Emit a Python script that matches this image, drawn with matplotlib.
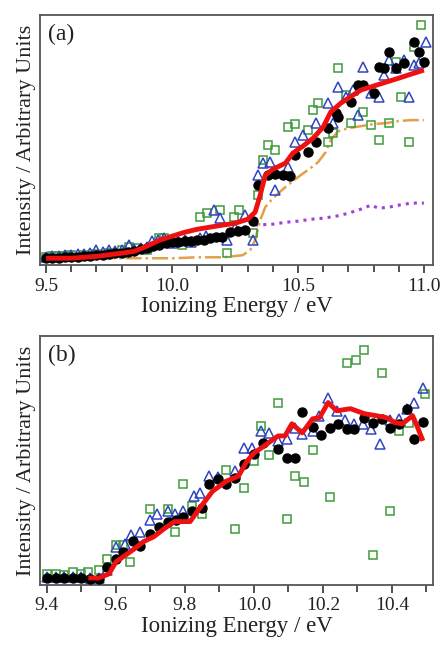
import numpy as np
import matplotlib
matplotlib.use('Agg')
import matplotlib.pyplot as plt
from matplotlib.ticker import MultipleLocator

plt.rcParams['font.family'] = ['Liberation Serif', 'DejaVu Serif']

# ---------------- panel (a) data ----------------
a_fit_x = [9.50, 9.60, 9.70, 9.80, 9.85, 9.90, 9.95, 10.00, 10.05, 10.10, 10.15, 10.20, 10.25, 10.30,
           10.33, 10.35, 10.37, 10.40, 10.45, 10.48, 10.52, 10.56, 10.60, 10.63, 10.67, 10.70, 10.75,
           10.80, 10.85, 10.90, 10.95, 11.00]
a_fit_y = [0.0, 0.0, 0.01, 0.027, 0.037, 0.064, 0.096, 0.117, 0.138, 0.154, 0.165, 0.176, 0.186, 0.207,
           0.245, 0.335, 0.441, 0.473, 0.505, 0.559, 0.596, 0.638, 0.697, 0.777, 0.824, 0.851, 0.894,
           0.915, 0.936, 0.957, 0.979, 1.0]

a_orange_x = [9.50, 9.60, 9.70, 9.80, 9.90, 10.00, 10.10, 10.20, 10.28, 10.31, 10.33, 10.35, 10.37, 10.40,
              10.45, 10.50, 10.55, 10.58, 10.61, 10.63, 10.66, 10.70, 10.75, 10.80, 10.85, 10.90, 10.95, 11.00]
a_orange_y = [0.0, 0.0, 0.0, 0.0, 0.0, 0.0, 0.005, 0.005, 0.016, 0.043, 0.096, 0.202, 0.271, 0.319,
              0.378, 0.431, 0.479, 0.511, 0.564, 0.628, 0.676, 0.691, 0.702, 0.713, 0.718, 0.729, 0.734, 0.734]

a_purple_x = [10.33, 10.40, 10.45, 10.50, 10.55, 10.60, 10.65, 10.70, 10.75, 10.79, 10.82, 10.86, 10.90, 10.95, 11.00]
a_purple_y = [0.176, 0.181, 0.191, 0.197, 0.207, 0.213, 0.223, 0.239, 0.261, 0.282, 0.266, 0.271, 0.282, 0.293, 0.293]

a_black_x = [9.50, 9.525, 9.55, 9.575, 9.60, 9.625, 9.65, 9.675, 9.70, 9.725, 9.75, 9.775, 9.80, 9.825, 9.85,
             9.875, 9.90, 9.925, 9.95, 9.975, 10.00, 10.025, 10.05, 10.075, 10.10, 10.125, 10.15, 10.175,
             10.20, 10.23, 10.26, 10.29, 10.32, 10.34, 10.38, 10.41, 10.44, 10.47, 10.49, 10.54, 10.57,
             10.62, 10.65, 10.66, 10.71, 10.74, 10.76, 10.80, 10.82, 10.84, 10.86, 10.89, 10.92, 10.96,
             10.98, 11.00]
a_black_y = [0.0, 0.0, 0.0, 0.005, 0.005, 0.005, 0.011, 0.011, 0.016, 0.016, 0.021, 0.027, 0.027, 0.032, 0.037,
             0.048, 0.053, 0.064, 0.069, 0.080, 0.085, 0.085, 0.090, 0.090, 0.096, 0.096, 0.106, 0.112,
             0.112, 0.138, 0.144, 0.149, 0.197, 0.388, 0.441, 0.447, 0.441, 0.436, 0.548, 0.564, 0.617,
             0.691, 0.771, 0.750, 0.830, 0.920, 0.920, 0.878, 1.016, 1.011, 1.096, 1.011, 1.037, 1.149,
             1.096, 1.043]

a_blue_x = [9.50, 9.525, 9.55, 9.575, 9.60, 9.625, 9.65, 9.675, 9.70, 9.725, 9.75, 9.775, 9.80, 9.83, 9.85,
            9.875, 9.90, 9.92, 9.945, 9.97, 10.00, 10.025, 10.05, 10.075, 10.11, 10.135, 10.165, 10.19,
            10.22, 10.25, 10.29, 10.32, 10.34, 10.36, 10.39, 10.41, 10.46, 10.49, 10.52, 10.57, 10.62,
            10.64, 10.66, 10.69, 10.72, 10.74, 10.76, 10.79, 10.82, 10.84, 10.86, 10.89, 10.92, 10.94,
            10.96, 10.98, 11.01]
a_blue_y = [0.005, 0.011, 0.011, 0.016, 0.016, 0.021, 0.021, 0.027, 0.043, 0.032, 0.043, 0.037, 0.043, 0.069, 0.048,
            0.053, 0.059, 0.090, 0.096, 0.106, 0.080, 0.090, 0.096, 0.085, 0.106, 0.117, 0.255, 0.213,
            0.096, 0.160, 0.229, 0.096, 0.441, 0.505, 0.511, 0.362, 0.484, 0.617, 0.654, 0.718, 0.824,
            0.718, 0.910, 0.856, 0.894, 0.761, 1.016, 0.878, 0.856, 0.973, 1.053, 1.011, 1.053, 0.856,
            1.027, 1.037, 1.149]

a_green_x = [9.50, 9.525, 9.55, 9.575, 9.60, 9.65, 9.70, 9.75, 9.80, 9.83, 9.86, 9.90, 9.95, 9.97, 10.04,
             10.11, 10.14, 10.19, 10.22, 10.245, 10.265, 10.32, 10.34, 10.36, 10.38, 10.41, 10.46, 10.49,
             10.54, 10.56, 10.58, 10.62, 10.64, 10.66, 10.69, 10.71, 10.76, 10.79, 10.82, 10.86, 10.89,
             10.91, 10.94, 10.96, 10.99]
a_green_y = [0.005, 0.011, 0.011, 0.011, 0.016, 0.016, 0.021, 0.027, 0.043, 0.059, 0.053, 0.043, 0.106, 0.106, 0.069,
             0.218, 0.239, 0.255, 0.027, 0.218, 0.255, 0.133, 0.335, 0.521, 0.601, 0.574, 0.697, 0.713,
             0.681, 0.787, 0.824, 0.617, 0.665, 1.011, 0.867, 0.718, 0.777, 0.707, 0.628, 0.718, 1.043,
             0.856, 0.617, 1.122, 1.239]

# ---------------- panel (b) data ----------------
b_fit_x = [9.52, 9.55, 9.58, 9.60, 9.65, 9.68, 9.71, 9.74, 9.77, 9.815, 9.84, 9.88, 9.92, 9.955, 9.98, 10.00,
           10.03, 10.07, 10.09, 10.11, 10.14, 10.17, 10.19, 10.215, 10.24, 10.28, 10.32, 10.355, 10.385,
           10.41, 10.43, 10.46, 10.475, 10.49]
b_fit_y = [0.0, 0.0, 0.024, 0.094, 0.165, 0.212, 0.241, 0.288, 0.329, 0.329, 0.40, 0.506, 0.565, 0.594, 0.682, 0.729,
           0.771, 0.829, 0.829, 0.90, 0.847, 0.929, 0.935, 1.024, 0.976, 0.988, 0.959, 0.947, 0.935,
           0.906, 0.90, 0.947, 0.876, 0.80]

b_black_x = [9.40, 9.425, 9.45, 9.475, 9.50, 9.525, 9.55, 9.575, 9.60, 9.62, 9.65, 9.67, 9.70, 9.725, 9.75,
             9.775, 9.795, 9.82, 9.85, 9.87, 9.895, 9.92, 9.945, 9.97, 10.00, 10.025, 10.07, 10.095, 10.12,
             10.14, 10.17, 10.195, 10.22, 10.245, 10.27, 10.29, 10.32, 10.345, 10.37, 10.395, 10.42,
             10.445, 10.465, 10.49]
b_black_y = [0.0, 0.0, 0.0, 0.0, 0.0, -0.006, -0.006, 0.065, 0.112, 0.153, 0.218, 0.188, 0.259, 0.30, 0.329,
             0.341, 0.353, 0.388, 0.406, 0.547, 0.576, 0.547, 0.582, 0.665, 0.724, 0.788, 0.753, 0.70, 0.70,
             0.971, 0.882, 0.835, 0.876, 0.90, 0.871, 0.871, 0.935, 0.906, 0.929, 0.876, 0.90,
             0.988, 0.812, 0.912]

b_blue_x = [9.40, 9.425, 9.45, 9.475, 9.50, 9.525, 9.55, 9.575, 9.60, 9.625, 9.645, 9.67, 9.70, 9.72, 9.75,
            9.77, 9.795, 9.825, 9.845, 9.87, 9.895, 9.945, 9.97, 9.995, 10.02, 10.045, 10.07, 10.095,
            10.12, 10.14, 10.17, 10.19, 10.215, 10.24, 10.265, 10.29, 10.315, 10.34, 10.365, 10.395,
            10.42, 10.445, 10.465, 10.49]
b_blue_y = [0.006, 0.006, 0.006, 0.006, 0.006, 0.0, 0.0, 0.047, 0.182, 0.20, 0.253, 0.271, 0.341, 0.371, 0.388,
            0.371, 0.388, 0.476, 0.494, 0.594, 0.588, 0.624, 0.759, 0.759, 0.859, 0.847, 0.80, 0.812,
            0.876, 0.841, 0.859, 0.947, 1.053, 0.976, 0.924, 0.90, 0.90, 0.871, 0.782, 0.924,
            0.929, 0.988, 1.024, 1.106]

b_green_x = [9.40, 9.425, 9.45, 9.475, 9.50, 9.52, 9.55, 9.575, 9.60, 9.62, 9.64, 9.70, 9.75, 9.77, 9.795,
             9.82, 9.85, 9.92, 9.945, 9.97, 10.00, 10.02, 10.045, 10.07, 10.095, 10.12, 10.145, 10.17,
             10.22, 10.27, 10.295, 10.32, 10.345, 10.37, 10.395, 10.42, 10.45, 10.495]
b_green_y = [0.024, 0.024, 0.018, 0.035, 0.024, 0.035, 0.047, 0.112, 0.194, 0.194, 0.094, 0.40, 0.40, 0.271, 0.547,
             0.418, 0.376, 0.629, 0.288, 0.524, 0.682, 0.888, 0.718, 1.024, 0.347, 0.594, 0.559, 0.747,
             0.471, 1.253, 1.271, 1.329, 0.135, 1.194, 0.388, 0.859, 0.906, 1.076]

fig = plt.figure(figsize=(4.4, 6.5), dpi=100)
ax_a = fig.add_axes([0.091, 0.592, 0.893, 0.385])
ax_b = fig.add_axes([0.091, 0.100, 0.893, 0.383])

green = '#3f9a3a'
blue = '#2f45c0'

def draw_panel(ax, gx, gy, bx, by, kx, ky, fx, fy):
    ax.plot(gx, gy, 's', ms=5.8, mfc='none', mec=green, mew=1.1, zorder=3)
    ax.plot(bx, by, '^', ms=7.0, mfc='none', mec=blue, mew=1.1, zorder=4)
    ax.plot(kx, ky, 'o', ms=6.5, color='black', zorder=5)
    ax.plot(fx, fy, '-', color='#ee1111', lw=3.5, zorder=6, solid_capstyle='butt')

ax_a.plot(a_orange_x, a_orange_y, '-.', color='#e2a04a', lw=1.8, zorder=2)
ax_a.plot(a_purple_x, a_purple_y, ':', color='#a03fd8', lw=2.2, zorder=2)
draw_panel(ax_a, a_green_x, a_green_y, a_blue_x, a_blue_y, a_black_x, a_black_y, a_fit_x, a_fit_y)
draw_panel(ax_b, b_green_x, b_green_y, b_blue_x, b_blue_y, b_black_x, b_black_y, b_fit_x, b_fit_y)

ax_a.set_xlim(9.476, 11.036)
ax_a.set_ylim(-0.037, 1.293)
ax_a.xaxis.set_major_locator(MultipleLocator(0.5))
ax_a.xaxis.set_minor_locator(MultipleLocator(0.1))
ax_a.xaxis.set_major_formatter(plt.FuncFormatter(lambda v, p: f'{v:.1f}'))

ax_b.set_xlim(9.38, 10.519)
ax_b.set_ylim(-0.041, 1.412)
ax_b.xaxis.set_major_locator(MultipleLocator(0.2))
ax_b.xaxis.set_minor_locator(MultipleLocator(0.1))
ax_b.xaxis.set_major_formatter(plt.FuncFormatter(lambda v, p: f'{v:.1f}'))

for ax, lab in [(ax_a, '(a)'), (ax_b, '(b)')]:
    ax.set_yticks([])
    ax.tick_params(axis='x', which='both', direction='out', colors='#333333', labelcolor='#222222',
                   labelsize=14, width=1.2)
    ax.tick_params(axis='x', which='major', length=6, pad=3)
    ax.tick_params(axis='x', which='minor', length=5)
    for s in ax.spines.values():
        s.set_color('#555555')
        s.set_linewidth(1.3)
    ax.set_xlabel('Ionizing Energy / eV', fontsize=16.5, color='#222222', labelpad=1)
    ax.set_ylabel('Intensity / Arbitrary Units', fontsize=16, color='#222222', labelpad=3)
    ax.text(0.02, 0.965, lab, transform=ax.transAxes, fontsize=17, va='top', ha='left', color='#222222')

plt.savefig('out.png', dpi=100)
